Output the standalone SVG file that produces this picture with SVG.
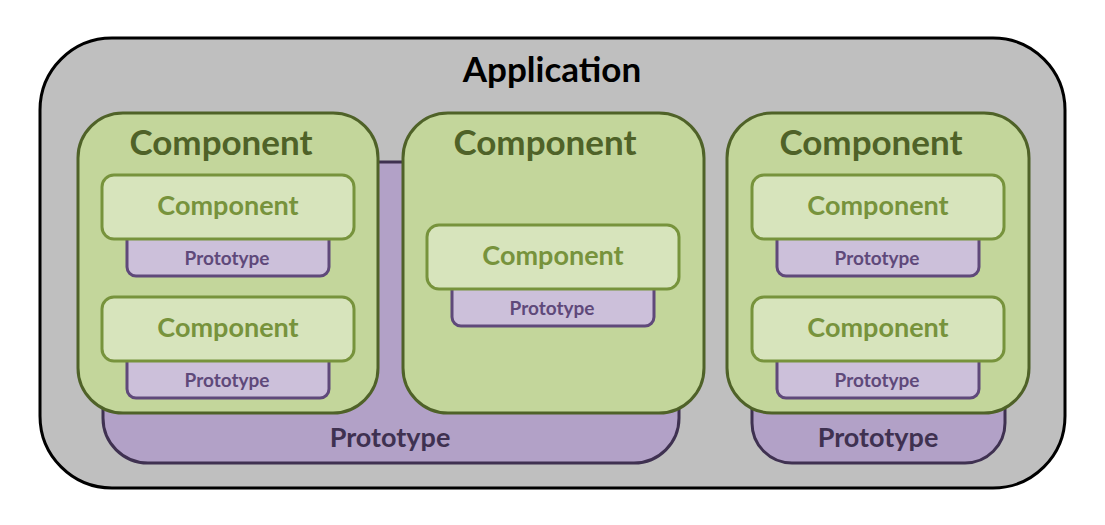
<svg xmlns="http://www.w3.org/2000/svg" width="1105" height="525" viewBox="0 0 1105 525">
<style>
text{font-family:Lato,"Open Sans","Liberation Sans",sans-serif;font-weight:bold;text-anchor:middle}
.app{fill:#bfbfbf;stroke:#000;stroke-width:3}
.bigp{fill:#b2a1c7;stroke:#3f3151;stroke-width:3}
.bigc{fill:#c3d69b;stroke:#4f6228;stroke-width:3}
.smp{fill:#ccc0da;stroke:#5f497a;stroke-width:3}
.inc{fill:#d7e4bc;stroke:#77933c;stroke-width:3}
.tapp{font-size:35px;fill:#000}
.tbigc{font-size:35px;fill:#4f6228}
.tinc{font-size:27px;fill:#77933c}
.tsmp{font-size:19px;fill:#5f497a}
.tbigp{font-size:27px;fill:#3f3151}
</style>
<g id="application">
<rect class="app" x="40" y="38" width="1025" height="450" rx="72"/>
<text class="tapp" x="552" y="82">Application</text>
</g>
<g id="prototype-1">
<rect class="bigp" x="103" y="162" width="576" height="301" rx="45"/>
<text class="tbigp" x="390" y="447">Prototype</text>
</g>
<g id="prototype-2">
<rect class="bigp" x="752" y="360" width="253" height="103" rx="40"/>
<text class="tbigp" x="878" y="447">Prototype</text>
</g>
<g id="component-1">
<rect class="bigc" x="78" y="113" width="300" height="300" rx="45"/>
<text class="tbigc" x="221" y="155">Component</text>
</g>
<g id="component-1-a">
<rect class="smp" x="127" y="225" width="202" height="51" rx="9"/>
<text class="tsmp" x="227" y="265">Prototype</text>
<rect class="inc" x="102" y="175" width="252" height="64" rx="12"/>
<text class="tinc" x="228" y="215">Component</text>
</g>
<g id="component-1-b">
<rect class="smp" x="127" y="347" width="202" height="51" rx="9"/>
<text class="tsmp" x="227" y="387">Prototype</text>
<rect class="inc" x="102" y="297" width="252" height="64" rx="12"/>
<text class="tinc" x="228" y="337">Component</text>
</g>
<g id="component-2">
<rect class="bigc" x="403" y="113" width="301" height="300" rx="45"/>
<text class="tbigc" x="545" y="155">Component</text>
</g>
<g id="component-2-a">
<rect class="smp" x="452" y="275" width="202" height="51" rx="9"/>
<text class="tsmp" x="552" y="315">Prototype</text>
<rect class="inc" x="427" y="225" width="252" height="64" rx="12"/>
<text class="tinc" x="553" y="265">Component</text>
</g>
<g id="component-3">
<rect class="bigc" x="727" y="113" width="302" height="300" rx="45"/>
<text class="tbigc" x="871" y="155">Component</text>
</g>
<g id="component-3-a">
<rect class="smp" x="777" y="225" width="202" height="51" rx="9"/>
<text class="tsmp" x="877" y="265">Prototype</text>
<rect class="inc" x="752" y="175" width="252" height="64" rx="12"/>
<text class="tinc" x="878" y="215">Component</text>
</g>
<g id="component-3-b">
<rect class="smp" x="777" y="347" width="202" height="51" rx="9"/>
<text class="tsmp" x="877" y="387">Prototype</text>
<rect class="inc" x="752" y="297" width="252" height="64" rx="12"/>
<text class="tinc" x="878" y="337">Component</text>
</g>
<g id="connectors"/>
</svg>
